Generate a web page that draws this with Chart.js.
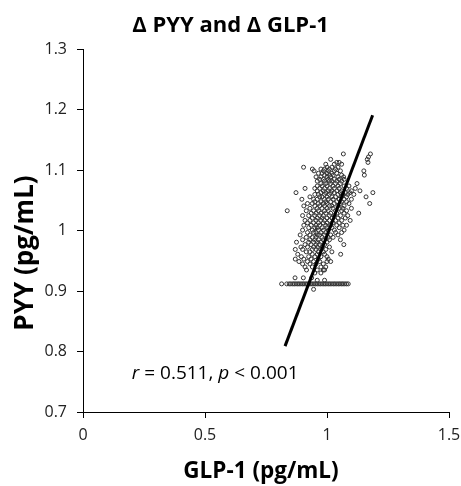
<!DOCTYPE html>
<html>
<head>
<meta charset="utf-8">
<script src="https://cdn.jsdelivr.net/npm/chart.js@4.4.1/dist/chart.umd.min.js"></script>
<style>
  html, body { margin: 0; padding: 0; background: #fff; }
  #wrap { width: 461px; height: 486px; }
</style>
</head>
<body>
<div id="wrap"><canvas id="c" width="461" height="486"></canvas></div>
<script>
// ---- Data ----
const chartTitle = "\u0394 PYY and \u0394 GLP-1";
const xAxisTitle = "GLP-1 (pg/mL)";
const yAxisTitle = "PYY (pg/mL)";
const xTicks = [0, 0.5, 1, 1.5];
const yTicks = [0.7, 0.8, 0.9, 1.0, 1.1, 1.2, 1.3];

// scattered observations [GLP-1, PYY]
const cloudPoints = [
  [1.067,1.127],[1.178,1.127],[1.170,1.122],[1.165,1.118],[1.015,1.118],
  [1.168,1.113],[1.040,1.113],[1.050,1.113],[1.030,1.110],[0.995,1.110],[1.060,1.110],
  [0.904,1.105],[1.020,1.105],[1.045,1.105],[1.000,1.105],
  [0.940,1.102],[0.990,1.102],[0.975,1.102],[1.010,1.102],[1.035,1.102],
  [0.947,1.099],[0.985,1.099],[1.005,1.099],[1.030,1.099],[1.055,1.099],[1.151,1.099],
  [0.965,1.095],[0.980,1.095],[1.000,1.095],[1.020,1.095],[1.040,1.095],
  [0.990,1.092],[1.010,1.092],[1.025,1.092],[1.060,1.092],[1.153,1.092],
  [0.955,1.089],[0.975,1.089],[1.000,1.089],[1.015,1.089],[1.045,1.089],[1.068,1.089],
  [0.970,1.085],[0.985,1.085],[1.005,1.085],[1.030,1.085],[1.050,1.085],[1.070,1.085],
  [0.960,1.082],[0.990,1.082],[1.010,1.082],[1.020,1.082],[1.040,1.082],[1.060,1.082],
  [0.975,1.078],[0.995,1.078],[1.015,1.078],[1.035,1.078],[1.055,1.078],[1.123,1.078],
  [0.960,1.074],[0.980,1.074],[1.000,1.074],[1.025,1.074],[1.045,1.074],[1.070,1.074],[1.090,1.074],
  [0.910,1.070],[0.950,1.070],[0.970,1.070],[0.990,1.070],[1.010,1.070],[1.030,1.070],[1.050,1.070],[1.080,1.070],[1.116,1.070],
  [0.960,1.066],[0.985,1.066],[1.005,1.066],[1.020,1.066],[1.040,1.066],[1.060,1.066],[1.100,1.066],[1.135,1.066],
  [0.873,1.063],[0.975,1.063],[0.995,1.063],[1.015,1.063],[1.030,1.063],[1.055,1.063],[1.075,1.063],[1.093,1.063],[1.188,1.063],
  [0.950,1.060],[0.965,1.060],[0.990,1.060],[1.010,1.060],[1.045,1.060],[1.065,1.060],[1.085,1.060],[1.110,1.060],
  [0.930,1.056],[0.970,1.056],[0.980,1.056],[1.000,1.056],[1.020,1.056],[1.035,1.056],[1.060,1.056],[1.080,1.056],[1.160,1.056],
  [0.897,1.052],[0.945,1.052],[0.960,1.052],[0.990,1.052],[1.005,1.052],[1.025,1.052],[1.050,1.052],[1.070,1.052],[1.100,1.052],
  [0.950,1.048],[0.975,1.048],[0.995,1.048],[1.015,1.048],[1.040,1.048],[1.060,1.048],[1.080,1.048],
  [0.920,1.045],[0.940,1.045],[0.965,1.045],[0.985,1.045],[1.000,1.045],[1.030,1.045],[1.055,1.045],[1.090,1.045],[1.175,1.045],
  [0.905,1.041],[0.950,1.041],[0.970,1.041],[0.990,1.041],[1.010,1.041],[1.020,1.041],[1.045,1.041],[1.070,1.041],
  [0.930,1.037],[0.960,1.037],[0.980,1.037],[1.000,1.037],[1.025,1.037],[1.050,1.037],[1.065,1.037],[1.100,1.037],
  [0.837,1.033],[0.915,1.033],[0.945,1.033],[0.965,1.033],[0.990,1.033],[1.005,1.033],[1.035,1.033],[1.060,1.033],[1.080,1.033],
  [0.935,1.029],[0.955,1.029],[0.975,1.029],[0.995,1.029],[1.015,1.029],[1.040,1.029],[1.070,1.029],[1.130,1.029],
  [0.900,1.025],[0.925,1.025],[0.950,1.025],[0.970,1.025],[0.985,1.025],[1.010,1.025],[1.030,1.025],[1.055,1.025],[1.085,1.025],
  [0.940,1.021],[0.960,1.021],[0.980,1.021],[1.000,1.021],[1.020,1.021],[1.045,1.021],[1.075,1.021],
  [0.910,1.017],[0.930,1.017],[0.955,1.017],[0.975,1.017],[0.990,1.017],[1.010,1.017],[1.035,1.017],[1.060,1.017],[1.095,1.017],
  [0.920,1.013],[0.945,1.013],[0.965,1.013],[0.985,1.013],[1.000,1.013],[1.025,1.013],[1.050,1.013],
  [0.905,1.009],[0.935,1.009],[0.955,1.009],[0.970,1.009],[0.995,1.009],[1.015,1.009],[1.040,1.009],[1.065,1.009],[1.080,1.009],
  [0.925,1.005],[0.950,1.005],[0.960,1.005],[0.980,1.005],[1.000,1.005],[1.020,1.005],[1.050,1.005],
  [0.900,1.001],[0.940,1.001],[0.965,1.001],[0.985,1.001],[1.005,1.001],[1.030,1.001],[1.070,1.001],
  [0.920,0.997],[0.945,0.997],[0.955,0.997],[0.975,0.997],[0.995,0.997],[1.035,0.997],[1.060,0.997],
  [0.890,0.993],[0.930,0.993],[0.960,0.993],[0.970,0.993],[0.990,0.993],[1.015,0.993],[1.045,0.993],
  [0.915,0.989],[0.940,0.989],[0.955,0.989],[0.980,0.989],[1.005,0.989],[1.025,0.989],
  [0.900,0.985],[0.930,0.985],[0.950,0.985],[0.965,0.985],[0.985,0.985],[1.010,0.985],[1.055,0.985],
  [0.875,0.981],[0.925,0.981],[0.945,0.981],[0.960,0.981],[0.975,0.981],[1.000,0.981],
  [0.910,0.977],[0.935,0.977],[0.955,0.977],[0.970,0.977],[0.990,0.977],[1.069,0.977],
  [0.893,0.973],[0.920,0.973],[0.945,0.973],[0.960,0.973],[0.980,0.973],[1.010,0.973],
  [0.870,0.969],[0.900,0.969],[0.940,0.969],[0.955,0.969],[0.975,0.969],[0.995,0.969],
  [0.915,0.965],[0.930,0.965],[0.965,0.965],[0.985,0.965],[1.020,0.965],
  [0.880,0.961],[0.940,0.961],[0.960,0.961],[0.990,0.961],[1.056,0.961],
  [0.895,0.957],[0.925,0.957],[0.950,0.957],[0.975,0.957],[1.000,0.957],
  [0.870,0.953],[0.905,0.953],[0.935,0.953],[0.965,0.953],[1.005,0.953],
  [0.885,0.949],[0.920,0.949],[0.945,0.949],[0.970,0.949],[1.000,0.949],[1.015,0.949],
  [0.900,0.945],[0.930,0.945],[0.955,0.945],[0.985,0.945],
  [0.910,0.940],[0.940,0.940],[0.975,0.940],[0.995,0.940],
  [0.916,0.935],[0.960,0.935],[0.985,0.935],[0.990,0.935],
  [0.950,0.930],[0.975,0.930],
  [0.869,0.922],[0.903,0.922],[0.937,0.922],
  [0.960,0.918],[0.990,0.918],
  [0.945,0.903]
];
// observations sitting on the lower PYY limit
const bandPyy = 0.912;
const bandGlp1 = [0.814,0.835,0.845,0.852,0.860,0.866,0.873,0.880,0.886,0.893,0.900,0.906,
  0.913,0.920,0.927,0.934,0.940,0.947,0.953,0.960,0.967,0.973,0.980,0.987,0.993,1.000,
  1.007,1.013,1.020,1.027,1.033,1.040,1.047,1.053,1.060,1.066,1.073,1.080,1.087];
// regression line end points [GLP-1, PYY]
const fitLine = [[0.828,0.809],[1.187,1.191]];
const annotation = { r: "0.511", p: "0.001", at: [0.2, 0.763] };

// ---- Build datasets ----
const scatterData = cloudPoints.map(([x, y]) => ({ x, y }))
  .concat(bandGlp1.map(x => ({ x, y: bandPyy })));
const fitData = fitLine.map(([x, y]) => ({ x, y }));

const FONT = "'Open Sans', 'DejaVu Sans', sans-serif";

const overlay = {
  id: 'overlay',
  afterDraw(chart) {
    const ctx = chart.ctx;
    const xs = chart.scales.x, ys = chart.scales.y;
    ctx.save();
    // annotation with italic r and p
    const parts = [
      ['italic', 'r'], ['normal', ' = ' + annotation.r + ', '],
      ['italic', 'p'], ['normal', ' < ' + annotation.p]
    ];
    let px = xs.getPixelForValue(annotation.at[0]);
    const py = ys.getPixelForValue(annotation.at[1]);
    ctx.fillStyle = '#000';
    ctx.textBaseline = 'middle';
    ctx.textAlign = 'left';
    for (const [st, t] of parts) {
      ctx.font = st + ' 19px ' + FONT;
      ctx.fillText(t, px, py);
      px += ctx.measureText(t).width;
    }
    // axis titles
    ctx.textAlign = 'center';
    ctx.font = 'bold 22.5px ' + FONT;
    ctx.fillText(xAxisTitle, 261, 472);
    ctx.font = 'bold 26px ' + FONT;
    ctx.translate(26, 253);
    ctx.rotate(-Math.PI / 2);
    ctx.fillText(yAxisTitle, 0, 0);
    ctx.restore();
  }
};

new Chart(document.getElementById('c'), {
  type: 'scatter',
  data: {
    datasets: [
      {
        type: 'line',
        data: fitData,
        borderColor: '#000',
        borderWidth: 3,
        pointRadius: 0,
        fill: false,
        order: 0
      },
      {
        type: 'scatter',
        data: scatterData,
        pointStyle: 'circle',
        pointRadius: 2,
        borderWidth: 1,
        borderColor: '#333',
        backgroundColor: 'rgba(255,255,255,0)',
        order: 1
      }
    ]
  },
  plugins: [overlay],
  options: {
    responsive: false,
    animation: false,
    devicePixelRatio: 1,
    layout: { padding: { left: 0, right: 0, top: 0, bottom: 0 } },
    plugins: {
      legend: { display: false },
      tooltip: { enabled: false },
      title: {
        display: true,
        text: chartTitle,
        color: '#000',
        font: { family: FONT, size: 22, weight: 'bold' },
        padding: { top: 13, bottom: 10 }
      }
    },
    scales: {
      x: {
        type: 'linear',
        min: 0, max: 1.5,
        afterBuildTicks: s => { s.ticks = xTicks.map(v => ({ value: v })); },
        afterFit: s => { s.height = 74; s.paddingRight = 12; s.paddingLeft = 0; },
        grid: { drawOnChartArea: false, drawTicks: true, tickLength: 6, color: '#000' },
        border: { display: true, color: '#000', width: 1 },
        ticks: {
          color: '#222',
          padding: 8,
          maxRotation: 0,
          font: { family: FONT, size: 16 },
          callback: v => String(v)
        }
      },
      y: {
        type: 'linear',
        min: 0.7, max: 1.3,
        afterBuildTicks: s => { s.ticks = yTicks.map(v => ({ value: v })); },
        afterFit: s => { s.width = 83; },
        grid: { drawOnChartArea: false, drawTicks: true, tickLength: 6, color: '#000' },
        border: { display: true, color: '#000', width: 1 },
        ticks: {
          color: '#222',
          padding: 10,
          font: { family: FONT, size: 16 },
          callback: v => String(Math.round(v * 10) / 10)
        }
      }
    }
  }
});
</script>
</body>
</html>
